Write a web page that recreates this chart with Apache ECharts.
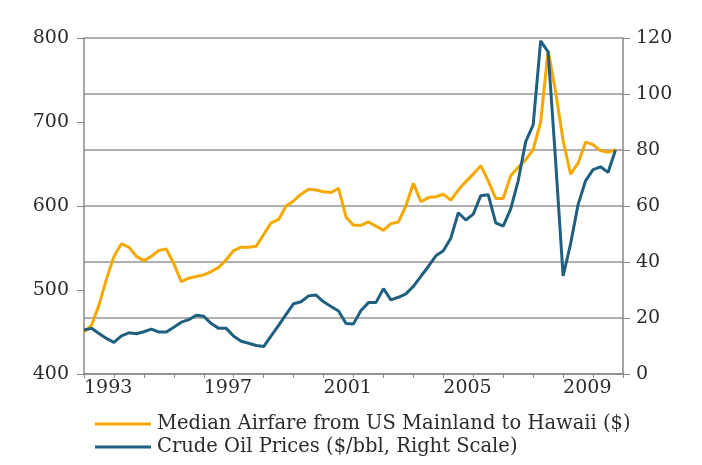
<!DOCTYPE html>
<html>
<head>
<meta charset="utf-8">
<script src="https://cdn.jsdelivr.net/npm/echarts@6/dist/echarts.min.js"></script>
<style>
  html, body { margin: 0; padding: 0; background: #fff; }
  #main { width: 702px; height: 465px; }
</style>
</head>
<body>
<div id="main"></div>
<script>
// quarterly categories, 1993Q1 .. 2011Q1 (last one only closes the axis)
const quarters = [
    '1993Q1','1993Q2','1993Q3','1993Q4','1994Q1','1994Q2','1994Q3','1994Q4',
    '1995Q1','1995Q2','1995Q3','1995Q4','1996Q1','1996Q2','1996Q3','1996Q4',
    '1997Q1','1997Q2','1997Q3','1997Q4','1998Q1','1998Q2','1998Q3','1998Q4',
    '1999Q1','1999Q2','1999Q3','1999Q4','2000Q1','2000Q2','2000Q3','2000Q4',
    '2001Q1','2001Q2','2001Q3','2001Q4','2002Q1','2002Q2','2002Q3','2002Q4',
    '2003Q1','2003Q2','2003Q3','2003Q4','2004Q1','2004Q2','2004Q3','2004Q4',
    '2005Q1','2005Q2','2005Q3','2005Q4','2006Q1','2006Q2','2006Q3','2006Q4',
    '2007Q1','2007Q2','2007Q3','2007Q4','2008Q1','2008Q2','2008Q3','2008Q4',
    '2009Q1','2009Q2','2009Q3','2009Q4','2010Q1','2010Q2','2010Q3','2010Q4',
    '2011Q1'
];
const yearLabels = ['1993', '1997', '2001', '2005', '2009'];

// median airfare, $ (left scale)
const airfare = [
    450, 458, 482, 513, 540, 555, 551, 540, 535, 540, 547, 549,
    531, 510, 514, 516, 518, 522, 527, 536, 547, 551, 551, 552,
    566, 580, 584, 600, 606, 614, 620, 619, 617, 616, 621, 587,
    577, 577, 581, 576, 571, 579, 581, 600, 627, 605, 610, 611,
    614, 607, 619, 629, 638, 648, 630, 609, 609, 636, 646, 655,
    667, 700, 785, 736, 678, 638, 651, 676, 673, 666, 664, 667
];
// crude oil, $/bbl (right scale)
const oil = [
    15.7, 16.3, 14.5, 12.7, 11.3, 13.6, 14.7, 14.4, 15.1, 16, 15, 15,
    16.7, 18.5, 19.4, 21, 20.6, 18, 16.3, 16.3, 13.5, 11.7, 11, 10.2,
    9.8, 13.6, 17.4, 21.3, 25.1, 25.8, 27.9, 28.2, 25.8, 24.1, 22.5, 18,
    17.9, 22.7, 25.5, 25.5, 30.5, 26.5, 27.4, 28.6, 31.3, 34.9, 38.4, 42.2,
    44, 48.5, 57.6, 55, 57.1, 63.7, 64, 54, 52.8, 59, 69, 83,
    89, 119, 115, 76, 35, 46.5, 60.5, 69, 73, 74, 72, 80
];

const seriesNames = [
    'Median Airfare from US Mainland to Hawaii ($)',
    'Crude Oil Prices ($/bbl, Right Scale)'
];

const FONT = 'DejaVu Serif';
const textColor = '#2b2b2b';

let myChart = echarts.init(document.getElementById('main'));

let option = {
    animation: false,
    textStyle: { fontFamily: FONT },
    grid: { left: 84, right: 79, top: 38, bottom: 91 },
    legend: {
        orient: 'vertical',
        left: 90,
        top: 409,
        itemWidth: 56,
        itemHeight: 3,
        itemGap: 3,
        icon: 'rect',
        textStyle: { fontFamily: FONT, fontSize: 19.5, color: textColor, padding: [0, 0, 0, 1] },
        data: seriesNames
    },
    xAxis: {
        type: 'category',
        data: quarters,
        boundaryGap: false,
        axisLine: { lineStyle: { color: '#888', width: 1.5 } },
        axisTick: {
            interval: function (idx) { return idx % 4 === 0; },
            length: 4,
            lineStyle: { color: '#888' }
        },
        axisLabel: {
            interval: function (idx, value) {
                return value.slice(4) === 'Q1' && yearLabels.indexOf(value.slice(0, 4)) >= 0;
            },
            formatter: function (value) { return value.slice(0, 4); },
            align: 'left',
            margin: 5,
            fontFamily: FONT,
            fontSize: 19,
            color: textColor
        },
        splitLine: { show: false }
    },
    yAxis: [
        {
            type: 'value',
            min: 400,
            max: 800,
            interval: 100,
            axisLine: { show: true, lineStyle: { color: '#888', width: 1.5 } },
            axisTick: { show: true, length: 7, lineStyle: { color: '#888' } },
            axisLabel: { margin: 15, fontFamily: FONT, fontSize: 19, color: textColor },
            splitLine: { show: false }
        },
        {
            type: 'value',
            min: 0,
            max: 120,
            interval: 20,
            position: 'right',
            axisLine: { show: true, lineStyle: { color: '#888', width: 1.5 } },
            axisTick: { show: true, length: 7, lineStyle: { color: '#888' } },
            axisLabel: { margin: 13, fontFamily: FONT, fontSize: 19, color: textColor },
            splitLine: { show: true, lineStyle: { color: '#b0b0b0', width: 2 } }
        }
    ],
    series: [
        {
            name: seriesNames[0],
            type: 'line',
            yAxisIndex: 0,
            data: airfare,
            symbol: 'none',
            lineStyle: { color: '#F5A800', width: 3 },
            itemStyle: { color: '#F5A800' }
        },
        {
            name: seriesNames[1],
            type: 'line',
            yAxisIndex: 1,
            data: oil,
            symbol: 'none',
            lineStyle: { color: '#1F5F80', width: 3 },
            itemStyle: { color: '#1F5F80' }
        }
    ]
};

myChart.setOption(option);
</script>
</body>
</html>
